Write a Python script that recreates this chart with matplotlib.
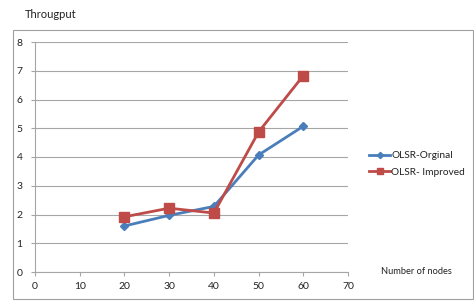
import matplotlib
matplotlib.use("Agg")
import matplotlib.pyplot as plt
from matplotlib.patches import Rectangle

nodes = [20, 30, 40, 50, 60]
olsr_original = [1.60, 1.97, 2.28, 4.07, 5.07]
olsr_improved = [1.92, 2.22, 2.05, 4.87, 6.83]
x_ticks = [0, 10, 20, 30, 40, 50, 60, 70]
y_ticks = [0, 1, 2, 3, 4, 5, 6, 7, 8]

plt.rcParams['font.family'] = ['Lato', 'DejaVu Sans']

W, H = 474, 301
fig = plt.figure(figsize=(W / 100, H / 100), dpi=100)
fig.patch.set_facecolor('white')

# outer chart border
fig.patches.append(Rectangle((13 / W, 1 - 299 / H), (473 - 13) / W, (299 - 30) / H,
                             transform=fig.transFigure, fill=False,
                             edgecolor='#A0A0A0', linewidth=0.8))

ax = fig.add_axes([35 / W, 1 - 272 / H, (348 - 35) / W, (272 - 42) / H])
ax.set_xlim(0, 70)
ax.set_ylim(0, 8)
ax.set_xticks(x_ticks)
ax.set_yticks(y_ticks)
ax.yaxis.grid(True, color='#A6A6A6', linewidth=0.8)
ax.set_axisbelow(True)
for s in ['top', 'right']:
    ax.spines[s].set_visible(False)
for s in ['left', 'bottom']:
    ax.spines[s].set_color('#A6A6A6')
    ax.spines[s].set_linewidth(0.8)
ax.tick_params(axis='both', colors='#A6A6A6', labelcolor='#222222', labelsize=7.5,
               length=3, width=0.8)
ax.tick_params(axis='y', pad=6)
ax.tick_params(axis='x', pad=4)

l1, = ax.plot(nodes, olsr_original, color='#4A7EBB', linewidth=2, marker='D',
              markersize=4.5, label='OLSR-Orginal')
l2, = ax.plot(nodes, olsr_improved, color='#BE4B48', linewidth=2, marker='s',
              markersize=6.5, label='OLSR- Improved')

fig.text(25 / W, 1 - 14 / H, 'Througput', fontsize=8, va='center', ha='left', color='#222222')
fig.text(381 / W, 1 - 272 / H, 'Number of nodes', fontsize=6.7, va='center', ha='left', color='#222222')

leg = fig.legend(handles=[l1, l2], loc='center left', bbox_to_anchor=(369 / W, 1 - 164 / H),
                 frameon=False, fontsize=7.3, handlelength=2.1, handletextpad=0.1,
                 labelspacing=0.75, borderaxespad=0, borderpad=0, markerscale=0.7)
for t in leg.get_texts():
    t.set_color('#222222')

fig.savefig('out.png', dpi=100)
